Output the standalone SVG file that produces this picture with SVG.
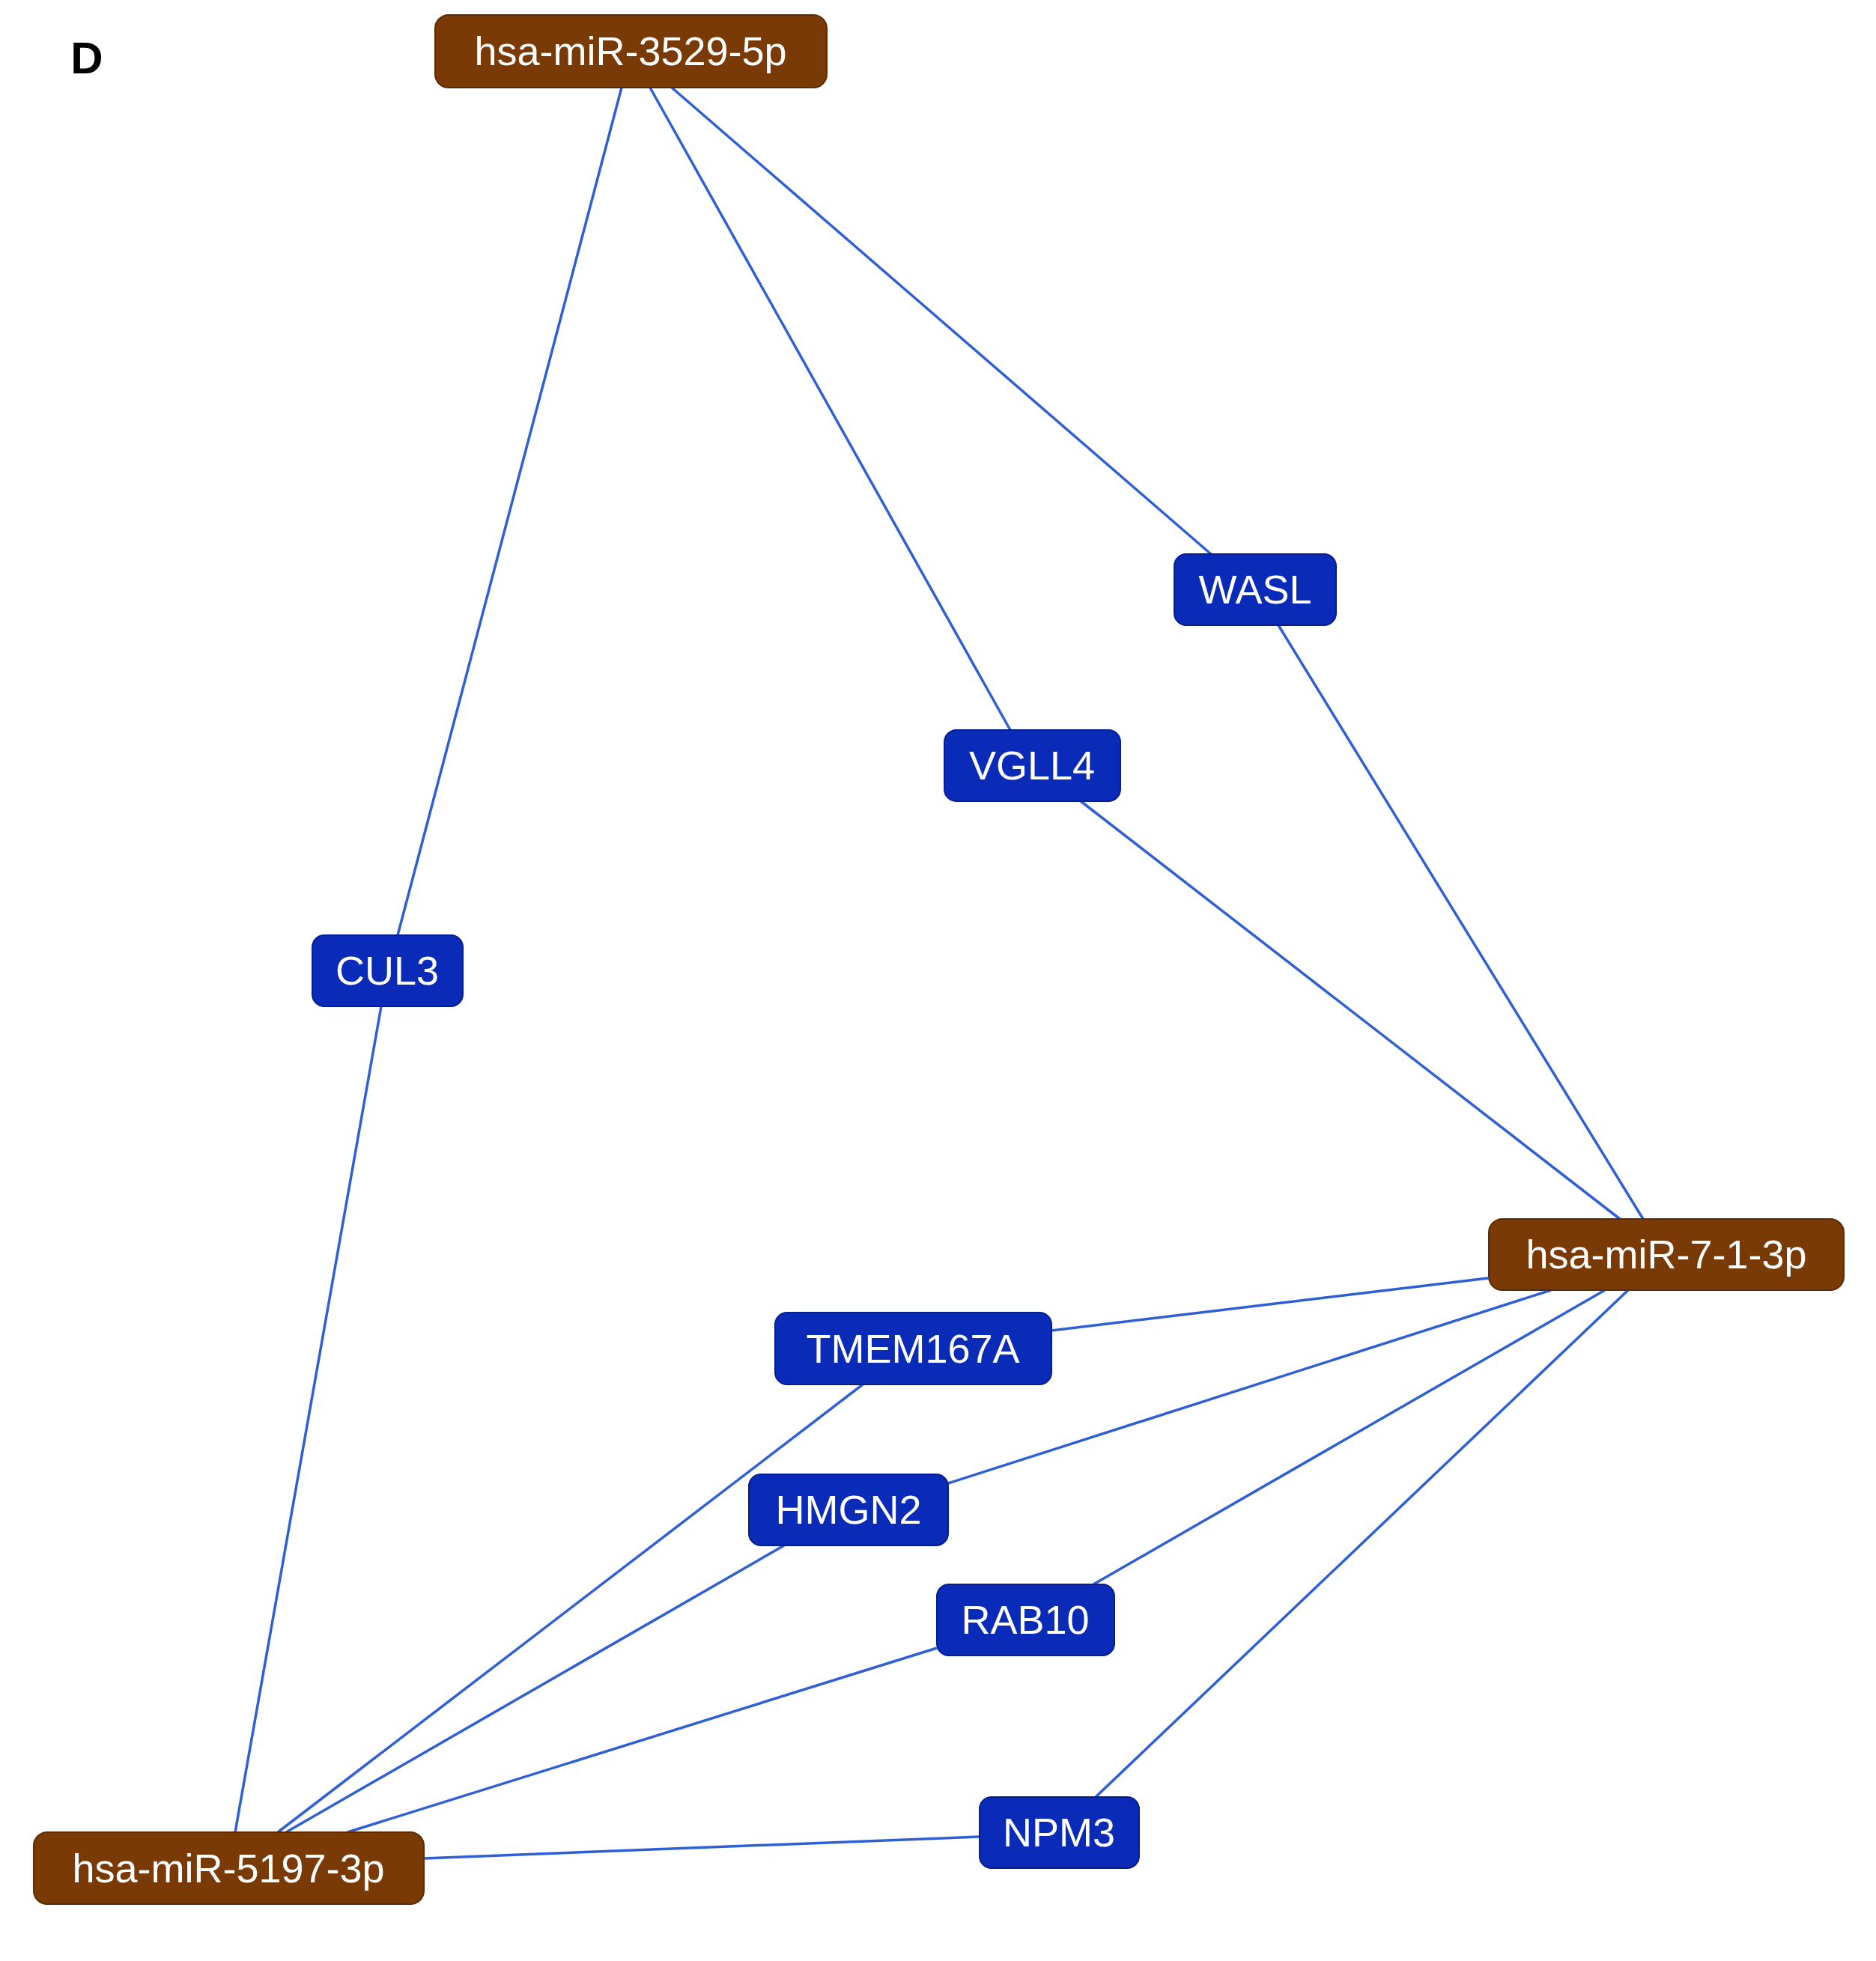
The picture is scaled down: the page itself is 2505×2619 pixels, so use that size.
<svg xmlns="http://www.w3.org/2000/svg" width="2505" height="2619" viewBox="0 0 2505 2619">
<style>
.e{stroke:#2f5fd6;stroke-width:3.5;fill:none}
.mir rect{fill:#7a3a06;stroke:#5e2b03;stroke-width:2}
.gene rect{fill:#0a2bb8;stroke:#061e90;stroke-width:2}
text{font-family:"Liberation Sans",Arial,sans-serif;font-size:54px;fill:#fff;text-anchor:middle;dominant-baseline:central}
</style>
<rect width="2505" height="2619" fill="#fff"/>
<text x="116" y="77" style="fill:#000;font-weight:bold;font-size:60px">D</text>
<g id="edges">
<line class="e" x1="830" y1="117" x2="531" y2="1249"/>
<line class="e" x1="868" y1="117" x2="1349" y2="975"/>
<line class="e" x1="897" y1="117" x2="1617" y2="740"/>
<line class="e" x1="1707" y1="835" x2="2194" y2="1628"/>
<line class="e" x1="1443" y1="1070" x2="2163" y2="1628"/>
<line class="e" x1="509" y1="1344" x2="314" y2="2447"/>
<line class="e" x1="1404" y1="1777" x2="1987" y2="1707"/>
<line class="e" x1="1266" y1="1981" x2="2071" y2="1723"/>
<line class="e" x1="1460" y1="2116" x2="2143" y2="1723"/>
<line class="e" x1="1463" y1="2400" x2="2174" y2="1723"/>
<line class="e" x1="1152" y1="1849" x2="371" y2="2447"/>
<line class="e" x1="1047" y1="2064" x2="382" y2="2447"/>
<line class="e" x1="1251" y1="2201" x2="464" y2="2447"/>
<line class="e" x1="1308" y1="2453" x2="566" y2="2482"/>
</g>
<g id="n3529" class="mir"><rect x="581" y="20" width="523" height="97" rx="18"/><text x="842" y="68">hsa-miR-3529-5p</text></g>
<g id="nWASL" class="gene"><rect x="1568" y="740" width="216" height="95" rx="16"/><text x="1676" y="787">WASL</text></g>
<g id="nVGLL4" class="gene"><rect x="1261" y="975" width="235" height="95" rx="16"/><text x="1378" y="1022">VGLL4</text></g>
<g id="nCUL3" class="gene"><rect x="417" y="1249" width="201" height="95" rx="16"/><text x="517" y="1296">CUL3</text></g>
<g id="n7" class="mir"><rect x="1988" y="1628" width="474" height="95" rx="18"/><text x="2225" y="1675">hsa-miR-7-1-3p</text></g>
<g id="nTMEM" class="gene"><rect x="1035" y="1753" width="369" height="96" rx="16"/><text x="1219" y="1801">TMEM167A</text></g>
<g id="nHMGN2" class="gene"><rect x="1000" y="1969" width="266" height="95" rx="16"/><text x="1133" y="2016">HMGN2</text></g>
<g id="nRAB10" class="gene"><rect x="1251" y="2116" width="237" height="95" rx="16"/><text x="1369" y="2163">RAB10</text></g>
<g id="nNPM3" class="gene"><rect x="1308" y="2400" width="213" height="95" rx="16"/><text x="1414" y="2447">NPM3</text></g>
<g id="n5197" class="mir"><rect x="45" y="2447" width="521" height="96" rx="18"/><text x="305" y="2495">hsa-miR-5197-3p</text></g>
</svg>
